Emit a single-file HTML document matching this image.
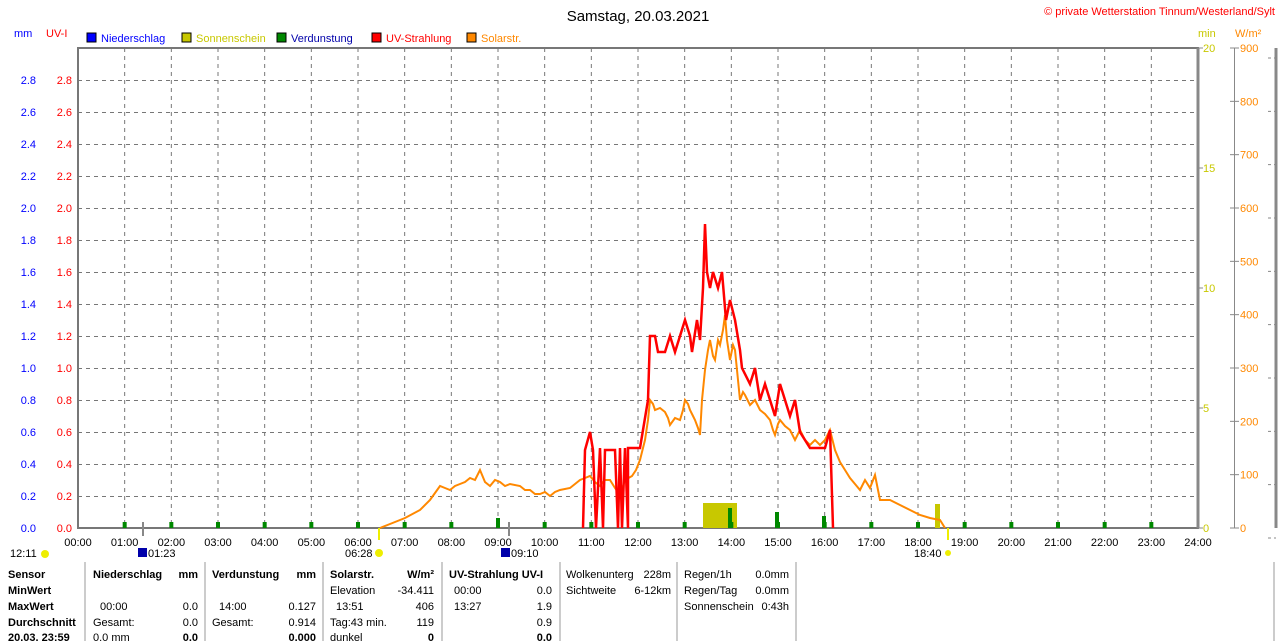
<!DOCTYPE html>
<html><head><meta charset="utf-8"><style>
body{margin:0;background:#fff;width:1280px;height:641px;overflow:hidden}
svg{display:block;font-family:"Liberation Sans",sans-serif}
</style></head><body>
<svg width="1280" height="641" viewBox="0 0 1280 641" xmlns="http://www.w3.org/2000/svg">
<rect width="1280" height="641" fill="#fff"/>
<text x="638" y="21" font-size="15" text-anchor="middle" fill="#000">Samstag, 20.03.2021</text>
<text x="1275" y="15" font-size="11" text-anchor="end" fill="#f00">© private Wetterstation Tinnum/Westerland/Sylt</text>
<g font-size="11">
<text x="14" y="37" fill="#00f">mm</text><text x="46" y="37" fill="#f00">UV-I</text>
<rect x="87" y="33" width="9" height="9" fill="#00f" stroke="#000"/><text x="101" y="42" fill="#00f">Niederschlag</text>
<rect x="182" y="33" width="9" height="9" fill="#c8c800" stroke="#000"/><text x="196" y="42" fill="#c8c800">Sonnenschein</text>
<rect x="277" y="33" width="9" height="9" fill="#080" stroke="#000"/><text x="291" y="42" fill="#00a">Verdunstung</text>
<rect x="372" y="33" width="9" height="9" fill="#f00" stroke="#000"/><text x="386" y="42" fill="#f00">UV-Strahlung</text>
<rect x="467" y="33" width="9" height="9" fill="#f80" stroke="#000"/><text x="481" y="42" fill="#f80">Solarstr.</text>
<text x="1198" y="37" fill="#c8c800">min</text><text x="1235" y="37" fill="#f80">W/m²</text>
</g>
<g stroke="#777" stroke-dasharray="4,4" stroke-width="1">
<line x1="78" y1="496.5" x2="1198" y2="496.5"/><line x1="78" y1="464.5" x2="1198" y2="464.5"/><line x1="78" y1="432.5" x2="1198" y2="432.5"/><line x1="78" y1="400.5" x2="1198" y2="400.5"/><line x1="78" y1="368.5" x2="1198" y2="368.5"/><line x1="78" y1="336.5" x2="1198" y2="336.5"/><line x1="78" y1="304.5" x2="1198" y2="304.5"/><line x1="78" y1="272.5" x2="1198" y2="272.5"/><line x1="78" y1="240.5" x2="1198" y2="240.5"/><line x1="78" y1="208.5" x2="1198" y2="208.5"/><line x1="78" y1="176.5" x2="1198" y2="176.5"/><line x1="78" y1="144.5" x2="1198" y2="144.5"/><line x1="78" y1="112.5" x2="1198" y2="112.5"/><line x1="78" y1="80.5" x2="1198" y2="80.5"/>
</g>
<g stroke="#777" stroke-dasharray="4,4" id="vg"></g>
<rect x="78" y="48" width="1120" height="480" fill="none" stroke="#777" stroke-width="2"/>
<line x1="1198" y1="48" x2="1198" y2="528" stroke="#888" stroke-width="3"/>
<line x1="1234.5" y1="48" x2="1234.5" y2="528" stroke="#888"/>
<line x1="1276" y1="48" x2="1276" y2="528" stroke="#888" stroke-width="3"/>
<g id="ticks"></g>
<rect x="703" y="503" width="34" height="25" fill="#c8c800"/>
<rect x="935" y="504" width="5" height="24" fill="#c8c800"/>
<polyline fill="none" stroke="#f80" stroke-width="2" points="380,528 390,524 405,518 420,510 430,500 440,486 445,488 450,490 455,486 460,484 465,482 470,478 475,480 480,470 485,482 490,486 495,480 500,482 505,486 510,484 520,486 525,490 530,490 535,494 540,494 545,492 550,496 555,492 560,490 570,488 575,484 580,480 585,478 590,476 595,482 600,486 605,480 610,480 615,488 620,495 625,480 632,476 636,470 640,460 643,448 645,440 648,420 650,400 653,404 655,410 660,408 665,412 668,418 670,425 675,418 680,420 683,410 685,400 688,404 690,410 693,416 695,420 698,428 700,435 702,400 705,370 708,350 710,340 713,356 715,360 718,340 720,345 723,330 725,315 727,340 730,360 733,345 735,350 738,380 740,400 743,392 745,395 750,405 755,400 760,410 765,414 770,420 773,430 775,435 778,424 780,420 785,426 790,430 795,440 800,430 805,440 810,445 815,440 820,445 825,440 830,430 835,450 840,462 845,470 850,478 855,484 860,490 865,480 870,488 875,475 878,490 880,500 890,500 900,505 910,510 920,515 930,518 940,520 945,528"/>
<polyline fill="none" stroke="#f00" stroke-width="2.5" points="583,528 585,450 590,432 593,450 596,528 600,448 603,528 605,450 615,450 618,528 620,448 622,528 625,448 628,528 628,448 640,448 643,430 648,400 650,336 655,336 658,352 665,352 670,336 675,352 680,336 685,320 690,336 692,352 697,320 700,340 703,288 705,224 707,272 710,288 713,272 718,288 722,272 726,320 730,300 735,320 740,350 742,368 750,384 755,368 760,400 765,384 770,400 775,416 780,384 785,400 790,416 795,400 800,432 810,448 825,448 830,430 833,528"/>
<g id="green" fill="#080"></g>
<line x1="379" y1="528" x2="379" y2="540" stroke="#ee0" stroke-width="2"/>
<line x1="143" y1="522" x2="143" y2="536" stroke="#888" stroke-width="2"/>
<line x1="509" y1="522" x2="509" y2="536" stroke="#888" stroke-width="2"/>
<line x1="948" y1="528" x2="948" y2="540" stroke="#ee0" stroke-width="2"/>
<g font-size="11" fill="#000">
<text x="10" y="557">12:11</text><circle cx="45" cy="554" r="4" fill="#ee0"/>
<rect x="138" y="548" width="9" height="9" fill="#00a"/><text x="148" y="557">01:23</text>
<text x="345" y="557">06:28</text><circle cx="379" cy="553" r="4" fill="#ee0"/>
<rect x="501" y="548" width="9" height="9" fill="#00a"/><text x="511" y="557">09:10</text>
<text x="914" y="557">18:40</text><circle cx="948" cy="553" r="3" fill="#ee0"/>
</g>
<g stroke="#999"><line x1="85" y1="562" x2="85" y2="641"/><line x1="205" y1="562" x2="205" y2="641"/><line x1="323" y1="562" x2="323" y2="641"/><line x1="442" y1="562" x2="442" y2="641"/><line x1="560" y1="562" x2="560" y2="641"/><line x1="677" y1="562" x2="677" y2="641"/><line x1="796" y1="562" x2="796" y2="641"/><line x1="1274" y1="562" x2="1274" y2="641"/></g>
<g font-size="11" fill="#000">
<g font-weight="bold"><text x="8" y="578">Sensor</text><text x="8" y="594">MinWert</text><text x="8" y="610">MaxWert</text><text x="8" y="626">Durchschnitt</text><text x="8" y="641">20.03. 23:59</text>
<text x="93" y="578">Niederschlag</text><text x="198" y="578" text-anchor="end">mm</text>
<text x="212" y="578">Verdunstung</text><text x="316" y="578" text-anchor="end">mm</text>
<text x="330" y="578">Solarstr.</text><text x="434" y="578" text-anchor="end">W/m²</text>
<text x="449" y="578">UV-Strahlung UV-I</text>
<text x="198" y="641" text-anchor="end">0.0</text><text x="316" y="641" text-anchor="end">0.000</text><text x="434" y="641" text-anchor="end">0</text><text x="552" y="641" text-anchor="end">0.0</text></g>
<text x="100" y="610">00:00</text><text x="198" y="610" text-anchor="end">0.0</text>
<text x="93" y="626">Gesamt:</text><text x="198" y="626" text-anchor="end">0.0</text><text x="93" y="641">0.0 mm</text>
<text x="219" y="610">14:00</text><text x="316" y="610" text-anchor="end">0.127</text>
<text x="212" y="626">Gesamt:</text><text x="316" y="626" text-anchor="end">0.914</text>
<text x="330" y="594">Elevation</text><text x="434" y="594" text-anchor="end">-34.411</text>
<text x="336" y="610">13:51</text><text x="434" y="610" text-anchor="end">406</text>
<text x="330" y="626">Tag:43 min.</text><text x="434" y="626" text-anchor="end">119</text><text x="330" y="641">dunkel</text>
<text x="454" y="594">00:00</text><text x="552" y="594" text-anchor="end">0.0</text>
<text x="454" y="610">13:27</text><text x="552" y="610" text-anchor="end">1.9</text>
<text x="552" y="626" text-anchor="end">0.9</text>
<text x="566" y="578">Wolkenunterg</text><text x="671" y="578" text-anchor="end">228m</text>
<text x="566" y="594">Sichtweite</text><text x="671" y="594" text-anchor="end">6-12km</text>
<text x="684" y="578">Regen/1h</text><text x="789" y="578" text-anchor="end">0.0mm</text>
<text x="684" y="594">Regen/Tag</text><text x="789" y="594" text-anchor="end">0.0mm</text>
<text x="684" y="610">Sonnenschein</text><text x="789" y="610" text-anchor="end">0:43h</text>
</g>
<g id="labels" font-size="11"></g>
</svg>
<script>
var ns="http://www.w3.org/2000/svg";
function el(p,t,a,txt){var e=document.createElementNS(ns,t);for(var k in a)e.setAttribute(k,a[k]);if(txt!=null)e.textContent=txt;document.getElementById(p).appendChild(e);}
for(var h=1;h<24;h++){var x=78+h*1120/24;el("vg","line",{x1:x,y1:48,x2:x,y2:528});}
for(var h=0;h<=24;h++){var x=78+h*1120/24;el("labels","text",{x:x,y:546,"text-anchor":"middle",fill:"#000"},(h<10?"0":"")+h+":00");
 if(h>0&&h<24)el("green","rect",{x:x-2,y:522,width:4,height:6});}
el("green","rect",{x:728,y:508,width:4,height:20});el("green","rect",{x:775,y:512,width:4,height:16});el("green","rect",{x:496,y:518,width:4,height:10});el("green","rect",{x:822,y:516,width:4,height:12});
for(var i=0;i<=14;i++){var y=528-i*32;var v=(i*0.2).toFixed(1);
 el("labels","text",{x:36,y:y+4,"text-anchor":"end",fill:"#00f"},v);el("labels","text",{x:72,y:y+4,"text-anchor":"end",fill:"#f00"},v);}
for(var i=0;i<=4;i++){var y=528-i*120;el("labels","text",{x:1203,y:y+4,fill:"#c8c800"},i*5);el("ticks","line",{x1:1198,y1:y,x2:1203,y2:y,stroke:"#888"});}
for(var i=0;i<=9;i++){var y=528-i*480/9;el("labels","text",{x:1240,y:y+4,fill:"#f80"},i*100);el("ticks","line",{x1:1230,y1:y,x2:1239,y2:y,stroke:"#888"});el("ticks","line",{x1:1268,y1:y+10,x2:1276,y2:y+10,stroke:"#888","stroke-dasharray":"3,3"});}
</script>
</body></html>
